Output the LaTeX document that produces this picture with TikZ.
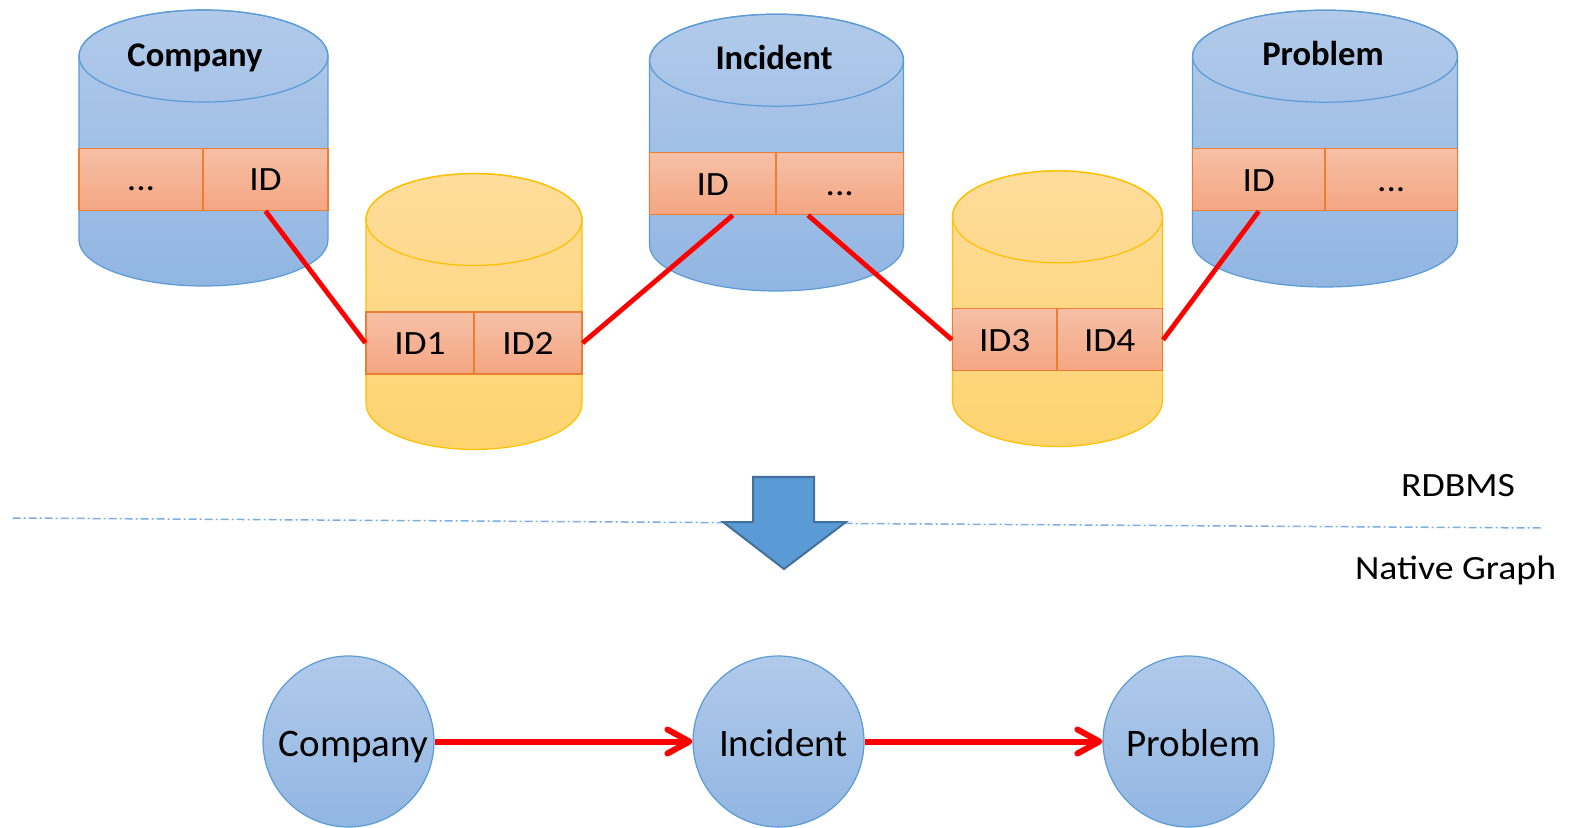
\documentclass[tikz,border=0pt]{standalone}
\usepackage{fontspec}
\usepackage{graphicx}
\setmainfont{Carlito}
\usetikzlibrary{arrows.meta,calc}

\definecolor{blueTop}{RGB}{177,202,234}
\definecolor{blueBot}{RGB}{145,182,226}
\definecolor{blueLine}{RGB}{91,155,213}
\definecolor{yelTop}{RGB}{254,220,155}
\definecolor{yelBot}{RGB}{254,212,112}
\definecolor{yelLine}{RGB}{255,192,0}
\definecolor{cellTop}{RGB}{246,192,167}
\definecolor{cellBot}{RGB}{244,166,130}
\definecolor{cellLine}{RGB}{237,125,49}
\definecolor{arrowFill}{RGB}{91,155,213}
\definecolor{arrowLine}{RGB}{65,113,156}
\definecolor{linkRed}{RGB}{255,0,0}

% slightly widened lettering used in the key columns
\newcommand\widetext[1]{\scalebox{1.1}[1]{#1}}
% graph node labels sit a little right of the circle centre
\newcommand\gtext[1]{\hspace*{5pt}#1}

\tikzset{
  bluebody/.style={top color=blueTop,bottom color=blueBot,draw=blueLine,line width=0.6pt},
  blueline/.style={draw=blueLine,line width=0.6pt},
  yelbody/.style={top color=yelTop,bottom color=yelBot,draw=yelLine,line width=0.6pt},
  yelline/.style={draw=yelLine,line width=0.6pt},
  cell/.style={rectangle,minimum height=31pt,inner sep=0pt,top color=cellTop,bottom color=cellBot,
    draw=cellLine,line width=0.6pt,font=\fontsize{17}{20}\selectfont,text height=11.4pt,text depth=0pt},
  title/.style={font=\fontsize{17.3}{20}\selectfont\bfseries,text height=11.1pt,text depth=0pt,inner sep=0pt},
  side/.style={font=\fontsize{17}{20}\selectfont,xscale=1.11,text height=10.95pt,text depth=0pt,inner sep=0pt},
  gnode/.style={circle,minimum size=85.5pt,inner sep=0pt,top color=blueTop,bottom color=blueBot,
    draw=blueLine,line width=0.6pt,font=\fontsize{19.5}{22}\selectfont,text height=15pt,text depth=0pt},
  link/.style={draw=linkRed,line width=2.4pt},
  rel/.style={draw=linkRed,line width=3pt,-{Straight Barb[length=11pt,width=12pt,line cap=round,line join=round]}},
}

% database cylinder: left x, right x, centre y of top ellipse, centre y of bottom ellipse, colour set
\newcommand\dbcyl[5]{%
  \pgfmathsetmacro\cylrx{(#2-#1)/4}%
  \pgfmathsetmacro\cylcx{(#1+#2)/2}%
  \path[#5body] (#1,#3) arc[start angle=180,end angle=0,x radius=\cylrx pt,y radius=23pt]
    -- (#2,#4) arc[start angle=0,end angle=-180,x radius=\cylrx pt,y radius=23pt] -- cycle;
  \draw[#5line] (\cylcx,#3) ellipse[x radius=\cylrx pt,y radius=23pt];
}

\begin{document}
\begin{tikzpicture}[x=0.5pt,y=-0.5pt]
\useasboundingbox (0,0) rectangle (1574,828);

% tables and join tables
\dbcyl{79}{328}{56}{240}{blue}
\dbcyl{366}{582}{219.5}{403.5}{yel}
\dbcyl{649.5}{903.5}{60.2}{245}{blue}
\dbcyl{952.5}{1162.5}{216.8}{400.5}{yel}
\dbcyl{1192.5}{1457.5}{56.2}{241}{blue}

\node[title] (tC) at (195,55) {Company};
\node[title] (tI) at (774,58.5) {Incident};
\node[title] (tP) at (1323,54.5) {Problem};

% key columns
\node[cell,minimum width=62pt]    (cDots) at (141,179.5) {\widetext{...}};
\node[cell,minimum width=62.5pt]  (cID)   at (265.5,179.5) {\widetext{ID}};
\node[cell,minimum width=54pt]    (id1)   at (420,343) {\widetext{ID1}};
\node[cell,minimum width=54pt]    (id2)   at (528,343) {\widetext{ID2}};
\node[cell,minimum width=63.25pt] (iID)   at (712.75,183.7) {\widetext{ID}};
\node[cell,minimum width=63.75pt] (iDots) at (839.75,183.7) {\widetext{...}};
\node[cell,minimum width=52.25pt] (id3)   at (1004.75,339.8) {\widetext{ID3}};
\node[cell,minimum width=52.75pt] (id4)   at (1109.75,339.8) {\widetext{ID4}};
\node[cell,minimum width=66.25pt] (pID)   at (1258.75,179.7) {\widetext{ID}};
\node[cell,minimum width=66.25pt] (pDots) at (1391.25,179.7) {\widetext{...}};

% foreign key links
\draw[link] (cID.south) -- (id1.west);
\draw[link] (id2.east) -- ($(iID.south)+(20,0)$);
\draw[link] ($(iDots.south)+(-31.7,0)$) -- (id3.west);
\draw[link] (id4.east) -- (pID.south);

% separator between the two models
\coordinate (sepL) at (12.7,518);
\coordinate (sepR) at (1542,528);
\draw[blueLine,opacity=0.8,line width=0.75pt,dash pattern=on 4pt off 1.5pt on 1pt off 1.5pt] (sepL) -- (sepR);

\node[side] (rdbms) at (1458,486) {RDBMS};
\node[side] (native) at (1455.5,569) {Native Graph};

% transition arrow
\draw[fill=arrowFill,draw=arrowLine,line width=1pt,line join=miter]
  (753,477) -- (814,477) -- (814,522) -- (846,522) -- (784,569) -- (723,522) -- (753,522) -- cycle;

% graph model
\node[gnode] (gC) at (348.5,741.5) {\gtext{Company}};
\node[gnode] (gI) at (778.5,741.5) {\gtext{Incident}};
\node[gnode] (gP) at (1188.5,741.5) {\gtext{Problem}};

\draw[rel] (gC.east) -- (gI.west);
\draw[rel] (gI.east) -- (gP.west);
\end{tikzpicture}
\end{document}
